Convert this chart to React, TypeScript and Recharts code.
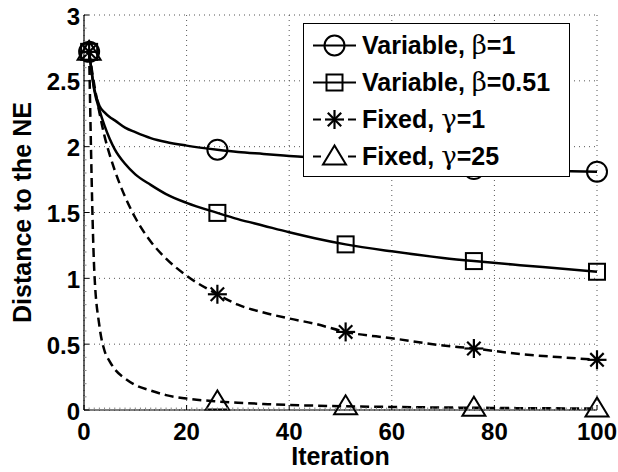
import { LineChart, Line, XAxis, YAxis, CartesianGrid, Legend } from "recharts"

const ITERATIONS = [1, 2, 3, 4, 5, 6, 8, 10, 13, 16, 20, 26, 30, 35, 40, 45, 51, 60, 70, 76, 85, 95, 100]
const MARKED = [1, 26, 51, 76, 100]

const VARIABLE_B1 = [2.72, 2.44, 2.31, 2.26, 2.225, 2.2, 2.145, 2.11, 2.065, 2.035, 2.008, 1.977, 1.96, 1.945, 1.93, 1.915, 1.895, 1.87, 1.845, 1.83, 1.822, 1.813, 1.81]
const VARIABLE_B051 = [2.72, 2.43, 2.28, 2.16, 2.06, 1.98, 1.87, 1.79, 1.71, 1.64, 1.573, 1.497, 1.45, 1.4, 1.35, 1.305, 1.258, 1.205, 1.155, 1.131, 1.1, 1.068, 1.05]
const FIXED_G1 = [2.72, 2.47, 2.26, 2.08, 1.94, 1.82, 1.62, 1.46, 1.28, 1.15, 1.02, 0.879, 0.8, 0.74, 0.695, 0.655, 0.593, 0.545, 0.49, 0.467, 0.425, 0.395, 0.381]
const FIXED_G25 = [2.72, 1.06, 0.64, 0.45, 0.37, 0.31, 0.24, 0.19, 0.148, 0.113, 0.087, 0.065, 0.055, 0.046, 0.038, 0.033, 0.028, 0.023, 0.019, 0.017, 0.014, 0.012, 0.011]

const X_TICKS = [0, 20, 40, 60, 80, 100]
const Y_TICKS = [0, 0.5, 1, 1.5, 2, 2.5, 3]
const X_MINOR = Array.from({ length: 101 }, (_, i) => i)
const Y_MINOR = Array.from({ length: 31 }, (_, i) => Math.round(i) / 10)

const SERIES = [
  { key: "b1", name: "Variable, β=1", marker: "circle", dashed: false },
  { key: "b051", name: "Variable, β=0.51", marker: "square", dashed: false },
  { key: "g1", name: "Fixed, γ=1", marker: "star", dashed: true },
  { key: "g25", name: "Fixed, γ=25", marker: "triangle", dashed: true },
]

const data = ITERATIONS.map((it, i) => ({
  iteration: it,
  b1: VARIABLE_B1[i],
  b051: VARIABLE_B051[i],
  g1: FIXED_G1[i],
  g25: FIXED_G25[i],
}))

const FONT = "'Liberation Sans', Arial, Helvetica, sans-serif"
const X_MARGIN = 13
const Y_MARGIN = 4

function Marker({ shape, cx, cy }: { shape: string; cx: number; cy: number }) {
  const st = { stroke: "#000", strokeWidth: 2, fill: "none" }
  if (shape === "circle") return <circle cx={cx} cy={cy} r={10} {...st} />
  if (shape === "square") return <rect x={cx - 8} y={cy - 8} width={16} height={16} {...st} />
  if (shape === "triangle")
    return <polygon points={`${cx},${cy - 11} ${cx - 11.5},${cy + 8} ${cx + 11.5},${cy + 8}`} {...st} />
  // asterisk = plus + cross
  const a = 9.5
  const b = 6.7
  return (
    <g {...st} strokeWidth={2.2}>
      <line x1={cx - a} x2={cx + a} y1={cy} y2={cy} />
      <line x1={cx} x2={cx} y1={cy - a} y2={cy + a} />
      <line x1={cx - b} x2={cx + b} y1={cy - b} y2={cy + b} />
      <line x1={cx - b} x2={cx + b} y1={cy + b} y2={cy - b} />
    </g>
  )
}

const makeDot = (shape: string) => (props: any) => {
  const { cx, cy, payload, index } = props
  if (!MARKED.includes(payload.iteration)) return <g key={`d-${shape}-${index}`} />
  return (
    <g key={`d-${shape}-${index}`}>
      <Marker shape={shape} cx={cx} cy={cy} />
    </g>
  )
}

const XTick = (props: any) => {
  const { x, y, payload } = props
  const v = payload.value
  const major = X_TICKS.includes(v)
  const axisY = y - X_MARGIN
  return (
    <g>
      <line x1={x} x2={x} y1={axisY} y2={axisY - (major ? 5 : 2.5)} stroke={major ? "#000" : "#888"} />
      {major && (
        <text x={x} y={y} dy="0.71em" textAnchor="middle" fontFamily={FONT} fontWeight="bold" fontSize={24} fill="#000">
          {v}
        </text>
      )}
    </g>
  )
}

const YTick = (props: any) => {
  const { x, y, payload } = props
  const v = payload.value
  const major = Math.abs(v * 2 - Math.round(v * 2)) < 1e-6
  const axisX = x + Y_MARGIN
  return (
    <g>
      <line x1={axisX} x2={axisX + (major ? 5 : 2.5)} y1={y} y2={y} stroke={major ? "#000" : "#888"} />
      {major && (
        <text x={x} y={y} dy="0.4em" textAnchor="end" fontFamily={FONT} fontWeight="bold" fontSize={24} fill="#000">
          {v}
        </text>
      )}
    </g>
  )
}

function renderName(name: string) {
  return name.split(/([βγ])/).map((part, i) =>
    part === "β" || part === "γ" ? (
      <span key={i} style={{ fontWeight: "normal", fontFamily: "'DejaVu Serif', serif", fontSize: 26 }}>
        {part}
      </span>
    ) : (
      <span key={i}>{part}</span>
    )
  )
}

function LegendBox() {
  return (
    <div
      style={{
        width: 267,
        height: 154,
        boxSizing: "border-box",
        border: "1px solid #000",
        background: "#fff",
        paddingTop: 2.5,
        fontFamily: FONT,
        fontWeight: "bold",
        fontSize: 25,
        color: "#000",
      }}
    >
      {SERIES.map((s) => (
        <div key={s.key} style={{ height: 37, display: "flex", alignItems: "center", whiteSpace: "nowrap" }}>
          <svg width={58} height={37} style={{ flex: "none" }}>
            <line
              x1={9}
              x2={52}
              y1={18.5}
              y2={18.5}
              stroke="#000"
              strokeWidth={2}
              strokeDasharray={s.dashed ? "8 27 8" : undefined}
            />
            <Marker shape={s.marker} cx={30.5} cy={18.5} />
          </svg>
          <span>{renderName(s.name)}</span>
        </div>
      ))}
    </div>
  )
}

export default function App() {
  return (
    <div style={{ position: "absolute", left: 0, top: 0, width: 618, height: 472, background: "#fff" }}>
      <LineChart width={618} height={472} data={data} margin={{ top: 15, right: 21, bottom: 0, left: 0 }}>
        <CartesianGrid
          stroke="#555"
          strokeDasharray="1 4"
          verticalValues={X_TICKS}
          horizontalValues={Y_TICKS}
        />
        <XAxis
          dataKey="iteration"
          type="number"
          domain={[0, 100]}
          ticks={X_MINOR}
          interval={0}
          height={62}
          tickSize={0}
          tickMargin={X_MARGIN}
          tickLine={false}
          tick={XTick}
          axisLine={{ stroke: "#000", strokeWidth: 1.2 }}
          label={{
            value: "Iteration",
            position: "insideBottom",
            offset: 7,
            style: { fontFamily: FONT, fontWeight: "bold", fontSize: 25, fill: "#000" },
          }}
        />
        <YAxis
          type="number"
          domain={[0, 3]}
          ticks={Y_MINOR}
          interval={0}
          width={84}
          tickSize={0}
          tickMargin={Y_MARGIN}
          tickLine={false}
          tick={YTick}
          axisLine={{ stroke: "#000", strokeWidth: 1.2 }}
          label={{
            value: "Distance to the NE",
            angle: -90,
            position: "insideLeft",
            offset: 22,
            style: { fontFamily: FONT, fontWeight: "bold", fontSize: 25, fill: "#000", textAnchor: "middle" },
          }}
        />
        <Legend
          layout="vertical"
          align="center"
          verticalAlign="middle"
          content={() => <LegendBox />}
          wrapperStyle={{ left: 303, top: 23, width: 267, height: 154 }}
        />
        {SERIES.map((s) => (
          <Line
            key={s.key}
            dataKey={s.key}
            name={s.name}
            type="monotone"
            stroke="#000"
            strokeWidth={2.5}
            strokeDasharray={s.dashed ? "9 5" : undefined}
            dot={makeDot(s.marker)}
            activeDot={false}
            isAnimationActive={false}
          />
        ))}
      </LineChart>
    </div>
  )
}
